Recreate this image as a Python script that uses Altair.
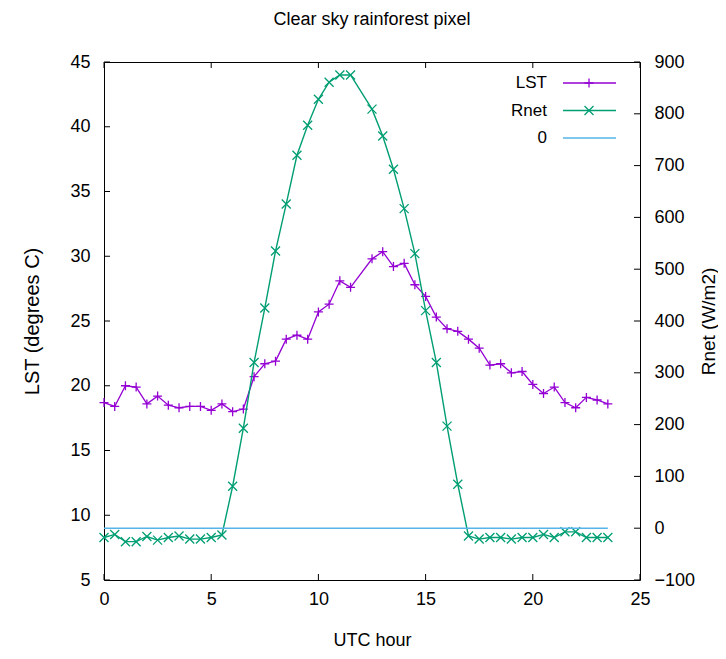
import altair as alt
import pandas as pd

# ---------------- data ----------------
hours = [0.0, 0.5, 1.0, 1.5, 2.0, 2.5, 3.0, 3.5, 4.0, 4.5, 5.0, 5.5,
         6.0, 6.5, 7.0, 7.5, 8.0, 8.5, 9.0, 9.5, 10.0, 10.5, 11.0, 11.5,
         12.5, 13.0, 13.5, 14.0, 14.5, 15.0, 15.5, 16.0, 16.5, 17.0, 17.5,
         18.0, 18.5, 19.0, 19.5, 20.0, 20.5, 21.0, 21.5, 22.0, 22.5, 23.0, 23.5]

lst = [18.7, 18.4, 20.0, 19.9, 18.6, 19.2, 18.5, 18.3, 18.4, 18.4, 18.1, 18.6,
       18.0, 18.2, 20.7, 21.7, 21.9, 23.6, 23.9, 23.6, 25.7, 26.3, 28.1, 27.6,
       29.8, 30.35, 29.2, 29.45, 27.8, 26.9, 25.3, 24.4, 24.2, 23.6, 22.9,
       21.6, 21.7, 21.0, 21.1, 20.1, 19.4, 19.9, 18.7, 18.3, 19.1, 18.9, 18.6]

rnet = [-18, -12, -26, -26, -16, -23, -18, -15, -21, -21, -18, -13,
        81, 193, 320, 425, 535, 626, 720, 778, 828, 861, 875, 875,
        809, 757, 693, 617, 530, 420, 320, 197, 85, -15, -21,
        -18, -18, -21, -18, -18, -12, -18, -7, -7, -18, -18, -18]

zero_hours = [0.0, 23.5]
zero_vals = [0, 0]

series_names = ["LST", "Rnet", "0"]
series_colors = ["#9400D3", "#009E73", "#56B4E9"]

x_ticks = [0, 5, 10, 15, 20, 25]
lst_ticks = [5, 10, 15, 20, 25, 30, 35, 40, 45]
rnet_ticks = [-100, 0, 100, 200, 300, 400, 500, 600, 700, 800, 900]

# ---------------- styling ----------------
W, H = 536, 518
FONT = "Liberation Sans"
PURPLE, GREEN, CYAN = series_colors
PLUS = "M-1,0L1,0M0,-1L0,1"
CROSS = "M-1,-1L1,1M-1,1L1,-1"
TICK = 6

df_lst = pd.DataFrame({"hour": hours, "lst": lst})
df_rnet = pd.DataFrame({"hour": hours, "rnet": rnet})
df_zero = pd.DataFrame({"hour": zero_hours, "rnet": zero_vals})

xscale = alt.Scale(domain=[0, 25], nice=False, zero=False)
lscale = alt.Scale(domain=[5, 45], nice=False, zero=False)
rscale = alt.Scale(domain=[-100, 900], nice=False, zero=False)

x_axis_def = alt.Axis(values=x_ticks, title="UTC hour", titleX=W / 2, titleY=65,
                      titleBaseline="alphabetic", titleAlign="center", titleFontSize=18,
                      labelPadding=10, ticks=False, tickSize=0, domain=False,
                      labelFlush=False, labelOverlap=False)
l_axis_def = alt.Axis(orient="left", values=lst_ticks, title="LST (degrees C)",
                      titleX=-72, titleY=H / 2, titleAngle=270, titleBaseline="middle",
                      titleAlign="center", labelPadding=14, ticks=False, tickSize=0,
                      domain=False, labelFlush=False, labelOverlap=False)
r_axis_def = alt.Axis(orient="right", values=rnet_ticks, title="Rnet (W/m2)",
                      titleX=68, titleY=H / 2, titleAngle=270, titleBaseline="middle",
                      titleAlign="center", titleFontSize=19, labelPadding=14, ticks=False,
                      tickSize=0, domain=False, labelFlush=False, labelOverlap=False)

X = alt.X("hour:Q", scale=xscale, axis=x_axis_def)
Y_L = alt.Y("lst:Q", scale=lscale, axis=l_axis_def)
Y_R = alt.Y("rnet:Q", scale=rscale, axis=r_axis_def)

lst_line = alt.Chart(df_lst).mark_line(color=PURPLE, strokeWidth=1.3).encode(x=X, y=Y_L)
lst_pts = alt.Chart(df_lst).mark_point(shape=PLUS, filled=False, size=81, strokeWidth=1.3,
                                        color=PURPLE, opacity=1).encode(x=X, y=Y_L)
lst_layer = alt.layer(lst_line, lst_pts)

rnet_line = alt.Chart(df_rnet).mark_line(color=GREEN, strokeWidth=1.4).encode(x=X, y=Y_R)
rnet_pts = alt.Chart(df_rnet).mark_point(shape=CROSS, filled=False, size=81, strokeWidth=1.3,
                                          color=GREEN, opacity=1).encode(x=X, y=Y_R)
zero_line = alt.Chart(df_zero).mark_line(color=CYAN, strokeWidth=1.6).encode(x=X, y=Y_R)
rnet_layer = alt.layer(rnet_line, rnet_pts, zero_line)

# inward ticks (gnuplot style)
df_xt = pd.DataFrame({"hour": x_ticks})
df_lt = pd.DataFrame({"lst": lst_ticks})
df_rt = pd.DataFrame({"rnet": rnet_ticks})
tick_bottom = alt.Chart(df_xt).mark_rule(color="black", strokeWidth=1).encode(
    x=X, y=alt.value(H), y2=alt.value(H - TICK))
tick_top = alt.Chart(df_xt).mark_rule(color="black", strokeWidth=1).encode(
    x=X, y=alt.value(0), y2=alt.value(TICK))
tick_left = alt.Chart(df_lt).mark_rule(color="black", strokeWidth=1).encode(
    y=alt.Y("lst:Q", scale=lscale, axis=None), x=alt.value(0), x2=alt.value(TICK))
tick_right = alt.Chart(df_rt).mark_rule(color="black", strokeWidth=1).encode(
    y=alt.Y("rnet:Q", scale=rscale, axis=None), x=alt.value(W), x2=alt.value(W - TICK))

# legend (gnuplot style: label left, sample right)
df_leg = pd.DataFrame({"name": series_names, "idx": list(range(len(series_names)))})
leg_base = alt.Chart(df_leg).transform_calculate(ly="21 + 27.5 * datum.idx")
leg_y = alt.Y("ly:Q", scale=None, axis=None)
leg_color = alt.Color("name:N", scale=alt.Scale(domain=series_names, range=series_colors),
                      legend=None)
leg_text = leg_base.mark_text(align="right", baseline="middle", fontSize=17, font=FONT,
                              color="black").encode(x=alt.value(443), y=leg_y, text="name:N")
leg_line = leg_base.mark_rule(strokeWidth=1.4).encode(
    x=alt.value(459), x2=alt.value(512), y=leg_y, color=leg_color)
leg_mark = leg_base.transform_filter("datum.idx < 2").mark_point(
    filled=False, size=81, strokeWidth=1.3, opacity=1).encode(
    x=alt.value(485), y=leg_y, color=leg_color,
    shape=alt.Shape("name:N", scale=alt.Scale(domain=["LST", "Rnet"], range=[PLUS, CROSS]),
                    legend=None))

chart = alt.layer(
    lst_layer, rnet_layer, tick_bottom, tick_top, tick_left, tick_right,
    leg_text, leg_line, leg_mark
).resolve_scale(y="independent").properties(
    width=W, height=H,
    autosize=alt.AutoSizeParams(type="none"),
    padding={"left": 96, "top": 54, "right": 78, "bottom": 71},
    background="white",
    title=alt.TitleParams("Clear sky rainforest pixel", fontSize=18, font=FONT,
                          fontWeight="normal", color="black", anchor="middle",
                          frame="group", offset=24),
).configure_view(stroke="black", strokeWidth=1).configure_axis(
    labelFont=FONT, titleFont=FONT, labelFontSize=18, titleFontSize=20,
    labelColor="black", titleColor="black", titleFontWeight="normal", grid=False
)

chart.save("out.html", embed_options={"renderer": "svg", "actions": False})
